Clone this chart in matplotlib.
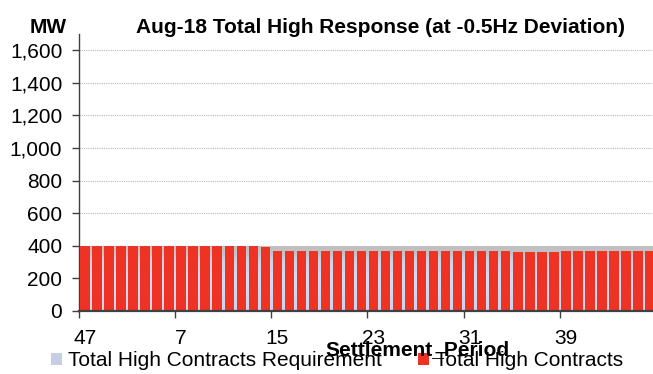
import numpy as np
import matplotlib
matplotlib.use("Agg")
import matplotlib.pyplot as plt
from matplotlib.ticker import FuncFormatter, FixedLocator
from matplotlib.patches import Patch

plt.rcParams['font.family'] = ['Liberation Sans', 'DejaVu Sans']

periods = [47, 48] + list(range(1, 47))
requirement = [400] * 48
contracts = ([400] * 15 + [390] + [370] * 20 + [362] * 4 + [370] * 8)
tick_labels = ['47', '7', '15', '23', '31', '39']
yticks = [0, 200, 400, 600, 800, 1000, 1200, 1400, 1600]

title = 'Aug-18 Total High Response (at -0.5Hz Deviation)'
ylabel = 'MW'
xlabel = 'Settlement_Period'
series_names = ['Total High Contracts Requirement', 'Total High Contracts']
red = '#EE3224'

W, H = 653, 374
fig = plt.figure(figsize=(W / 100, H / 100), dpi=100)
ax = fig.add_axes([79 / W, 1 - 311 / H, (656 - 79) / W, (311 - 34) / H])

x = np.arange(len(periods))
ax.set_xlim(-0.5, len(periods) - 0.5)
ax.set_ylim(0, 1700)

# gradient requirement bars, drawn as stacked slices of each bar
req = np.array(requirement, dtype=float)
stops_f = [0.0, 0.5, 0.75, 0.9, 1.0]
stops_c = np.array([[0.79, 0.83, 0.93],
                    [0.82, 0.86, 0.96],
                    [0.80, 0.83, 0.91],
                    [0.76, 0.76, 0.78],
                    [0.75, 0.75, 0.75]])
n_slices = 40
edges = np.linspace(0, 1, n_slices + 1)
for i in range(n_slices):
    fm = (edges[i] + edges[i + 1]) / 2
    c = [np.interp(fm, stops_f, stops_c[:, k]) for k in range(3)]
    ax.bar(x, req * (edges[i + 1] - edges[i]) * 1.001, bottom=req * edges[i],
           width=1.0, color=c, edgecolor='none', linewidth=0, zorder=2)

ax.bar(x, contracts, width=0.79, color=red, edgecolor='none', zorder=3)

# grid and axes
ax.set_yticks(yticks)
ax.yaxis.set_major_formatter(FuncFormatter(lambda v, p: f'{int(v):,}'))
ax.yaxis.grid(True, color='#B8B8B8', linestyle=(0, (1, 1)), linewidth=0.8, zorder=1)
ax.set_axisbelow(True)

label_pos = [periods.index(int(t)) for t in tick_labels]
ax.set_xticks(label_pos)
ax.set_xticklabels(tick_labels)
ax.xaxis.set_minor_locator(FixedLocator([p - 0.5 for p in label_pos]))
ax.tick_params(axis='x', which='major', length=0, pad=13, labelsize=15)
ax.tick_params(axis='x', which='minor', length=5, width=1, color='#404040', direction='out')
ax.tick_params(axis='y', length=5, width=1, color='#404040', pad=7, labelsize=15)

for s in ['top', 'right']:
    ax.spines[s].set_visible(False)
ax.spines['left'].set_color('#404040')
ax.spines['left'].set_linewidth(1)
ax.spines['bottom'].set_color('#404040')
ax.spines['bottom'].set_linewidth(1.6)
ax.spines['bottom'].set_zorder(5)

fig.text(48 / W, 1 - 33 / H, ylabel, fontsize=15, fontweight='bold', ha='center', va='baseline')
fig.text(381 / W, 1 - 33 / H, title, fontsize=15, fontweight='bold', ha='center', va='baseline')
fig.text(417 / W, 1 - 355 / H, xlabel, fontsize=15, fontweight='bold', ha='center', va='baseline', zorder=6)

handles = [Patch(facecolor='#C6CEE4', edgecolor='none'), Patch(facecolor=red, edgecolor='none')]
fig.legend(handles, series_names, loc='center', bbox_to_anchor=(337 / W, 1 - 361 / H),
           ncol=2, frameon=False, fontsize=15, handlelength=0.53, handleheight=0.53,
           handletextpad=0.3, columnspacing=1.7, borderpad=0, borderaxespad=0)

fig.savefig('out.png', dpi=100)
